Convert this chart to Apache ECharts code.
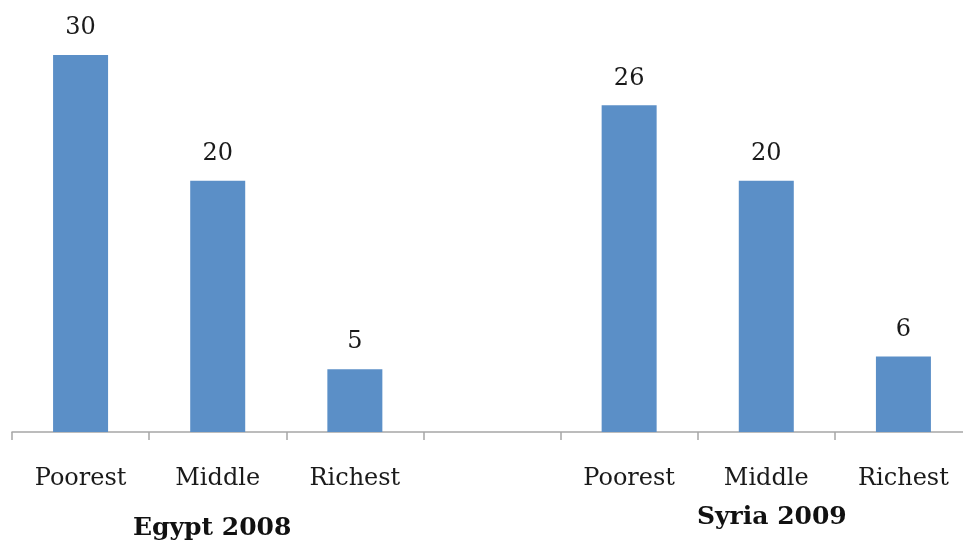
<!DOCTYPE html>
<html>
<head>
<meta charset="utf-8">
<script src="https://cdn.jsdelivr.net/npm/echarts@6/dist/echarts.min.js"></script>
<style>
  html, body { margin: 0; padding: 0; background: #fff; }
  #chart { width: 963px; height: 542px; }
</style>
</head>
<body>
<div id="chart"></div>
<script>
const categories = ['Poorest', 'Middle', 'Richest', '', 'Poorest', 'Middle', 'Richest']
const values = [30, 20, 5, null, 26, 20, 6]
const groups = ['Egypt 2008', 'Syria 2009']

const font = '"DejaVu Serif", serif'
const chart = echarts.init(document.getElementById('chart'), null, { renderer: 'canvas' })

chart.setOption({
  animation: false,
  grid: { left: 12, width: 960, top: 55, bottom: 110, containLabel: false, outerBoundsMode: 'none' },
  xAxis: {
    type: 'category',
    data: categories,
    axisLine: { lineStyle: { color: '#a6a6a6', width: 1.5 } },
    axisTick: { show: true, length: 8, lineStyle: { color: '#a6a6a6', width: 1.5 } },
    axisLabel: { color: '#1a1a1a', fontFamily: font, fontSize: 24, margin: 35, interval: 0 }
  },
  yAxis: {
    type: 'value',
    min: 0,
    max: 30,
    show: false,
    splitLine: { show: false }
  },
  series: [{
    type: 'bar',
    data: values,
    barWidth: 55,
    itemStyle: { color: '#5b8fc7' },
    label: {
      show: true,
      position: 'top',
      distance: 15,
      color: '#1a1a1a',
      fontFamily: font,
      fontSize: 24
    }
  }],
  graphic: [
    { type: 'text', left: 133, top: 516, style: { text: groups[0], font: 'bold 25px ' + font, fill: '#111' } },
    { type: 'text', left: 697, top: 505, style: { text: groups[1], font: 'bold 25px ' + font, fill: '#111' } }
  ]
})
</script>
</body>
</html>
